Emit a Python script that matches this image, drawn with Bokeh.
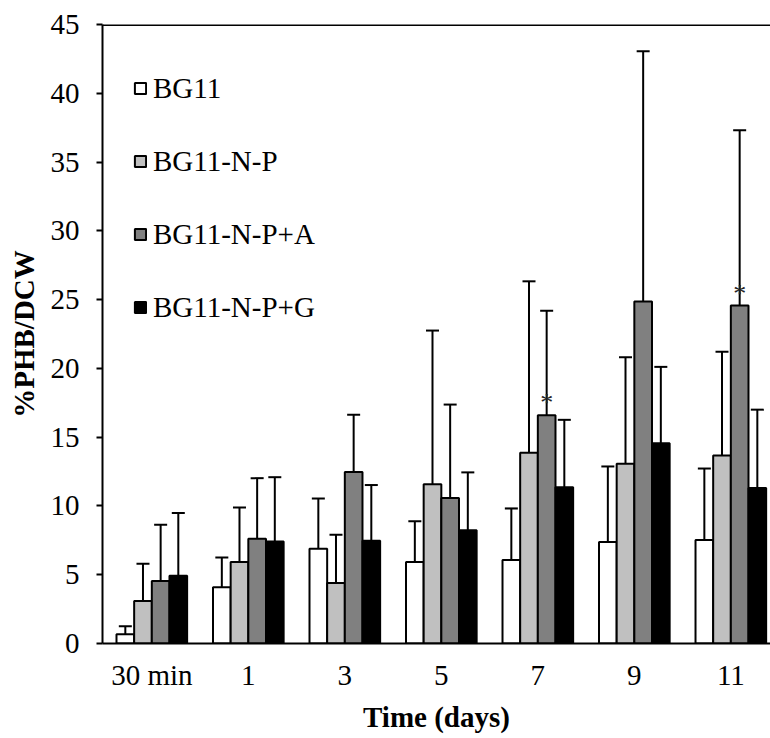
from bokeh.plotting import figure
from bokeh.models import (Range1d, FixedTicker, ColumnDataSource, Whisker, TeeHead,
                          Span, Legend, LegendItem)
from bokeh.core.properties import value
from bokeh.embed import file_html
from bokeh.resources import INLINE

# ---- data ----
categories = ["30 min", "1", "3", "5", "7", "9", "11"]
series_names = ["BG11", "BG11-N-P", "BG11-N-P+A", "BG11-N-P+G"]

bg11 = [0.68, 4.09, 6.89, 5.92, 6.07, 7.37, 7.52]
bg11_err = [0.58, 2.16, 3.65, 2.97, 3.75, 5.50, 5.20]

bg11_np = [3.09, 5.92, 4.40, 11.58, 13.86, 13.06, 13.66]
bg11_np_err = [2.70, 3.97, 3.50, 11.17, 12.47, 7.75, 7.55]

bg11_npa = [4.54, 7.62, 12.46, 10.57, 16.59, 24.86, 24.57]
bg11_npa_err = [4.10, 4.40, 4.17, 6.80, 7.60, 18.20, 12.75]

bg11_npg = [4.93, 7.42, 7.47, 8.24, 11.36, 14.56, 11.30]
bg11_npg_err = [4.55, 4.67, 4.05, 4.20, 4.90, 5.55, 5.70]

significant_npa = ["", "", "", "", "*", "", "*"]

y_ticks = [0, 5, 10, 15, 20, 25, 30, 35, 40, 45]

# ---- styling ----
FONT = "Liberation Serif"
colors = ["#ffffff", "#c0c0c0", "#808080", "#000000"]
bar_w = 0.183
offsets = [-1.5 * bar_w, -0.5 * bar_w, 0.5 * bar_w, 1.5 * bar_w]

p = figure(width=770, height=738,
           x_range=Range1d(-0.511, 6.411), y_range=Range1d(0, 45),
           output_backend="svg", toolbar_location=None,
           min_border_left=102, min_border_right=0,
           min_border_top=24, min_border_bottom=95)
p.outline_line_color = None
p.xgrid.visible = False
p.ygrid.visible = False
p.background_fill_color = "white"

values = [bg11, bg11_np, bg11_npa, bg11_npg]
errors = [bg11_err, bg11_np_err, bg11_npa_err, bg11_npg_err]

renderers = []
for k in range(4):
    xs = [i + offsets[k] for i in range(len(categories))]
    src = ColumnDataSource(dict(
        x=xs, top=values[k],
        upper=[v + e for v, e in zip(values[k], errors[k])],
        lower=[v - e for v, e in zip(values[k], errors[k])],
    ))
    r = p.vbar(x="x", top="top", bottom=0, width=bar_w, source=src,
               fill_color=colors[k], line_color="black", line_width=2)
    renderers.append(r)
    w = Whisker(source=src, base="x", upper="upper", lower="lower",
                line_color="black", line_width=2,
                upper_head=TeeHead(size=13, line_width=2, line_color="black"),
                lower_head=TeeHead(size=13, line_width=2, line_color="black"))
    p.add_layout(w)

# significance marks
sx = [i + offsets[2] for i, s in enumerate(significant_npa) if s]
sy = [bg11_npa[i] + 0.9 for i, s in enumerate(significant_npa) if s]
st = [s for s in significant_npa if s]
p.text(x=sx, y=sy, text=st, text_font=value(FONT), text_font_size="26px",
       text_align="center", text_baseline="alphabetic", text_color="#222222")

# top border line
p.add_layout(Span(location=45, dimension="width", line_color="black", line_width=3))

# axes
p.yaxis.ticker = FixedTicker(ticks=y_ticks)
p.yaxis.major_label_text_font = FONT
p.yaxis.major_label_text_font_size = "29px"
p.yaxis.major_label_text_color = "black"
p.yaxis.major_tick_out = 6
p.yaxis.major_tick_in = 0
p.yaxis.minor_tick_out = 0
p.yaxis.minor_tick_in = 0
p.yaxis.major_tick_line_width = 2
p.yaxis.axis_line_width = 2
p.yaxis.major_label_standoff = 17
p.yaxis.axis_label = "%PHB/DCW"
p.yaxis.axis_label_text_font = FONT
p.yaxis.axis_label_text_font_size = "29px"
p.yaxis.axis_label_text_font_style = "bold"
p.yaxis.axis_label_text_color = "black"
p.yaxis.axis_label_standoff = 8

p.xaxis.ticker = FixedTicker(ticks=list(range(len(categories))))
p.xaxis.major_label_overrides = {i: c for i, c in enumerate(categories)}
p.xaxis.major_label_text_font = FONT
p.xaxis.major_label_text_font_size = "29px"
p.xaxis.major_label_text_color = "black"
p.xaxis.major_tick_out = 0
p.xaxis.major_tick_in = 0
p.xaxis.minor_tick_out = 0
p.xaxis.minor_tick_in = 0
p.xaxis.axis_line_width = 2
p.xaxis.major_label_standoff = 15
p.xaxis.axis_label = "Time (days)"
p.xaxis.axis_label_text_font = FONT
p.xaxis.axis_label_text_font_size = "29px"
p.xaxis.axis_label_text_font_style = "bold"
p.xaxis.axis_label_text_color = "black"
p.xaxis.axis_label_standoff = 7

# legend
legend = Legend(items=[LegendItem(label=n, renderers=[r]) for n, r in zip(series_names, renderers)],
                location=(31, 319), orientation="vertical",
                label_text_font=FONT, label_text_font_size="29px",
                label_text_color="black",
                glyph_width=14, glyph_height=14, label_height=34,
                label_standoff=6, spacing=39, padding=0, margin=0,
                border_line_color=None, background_fill_alpha=0)
p.add_layout(legend)

open("out.html", "w").write(file_html(p, INLINE))
